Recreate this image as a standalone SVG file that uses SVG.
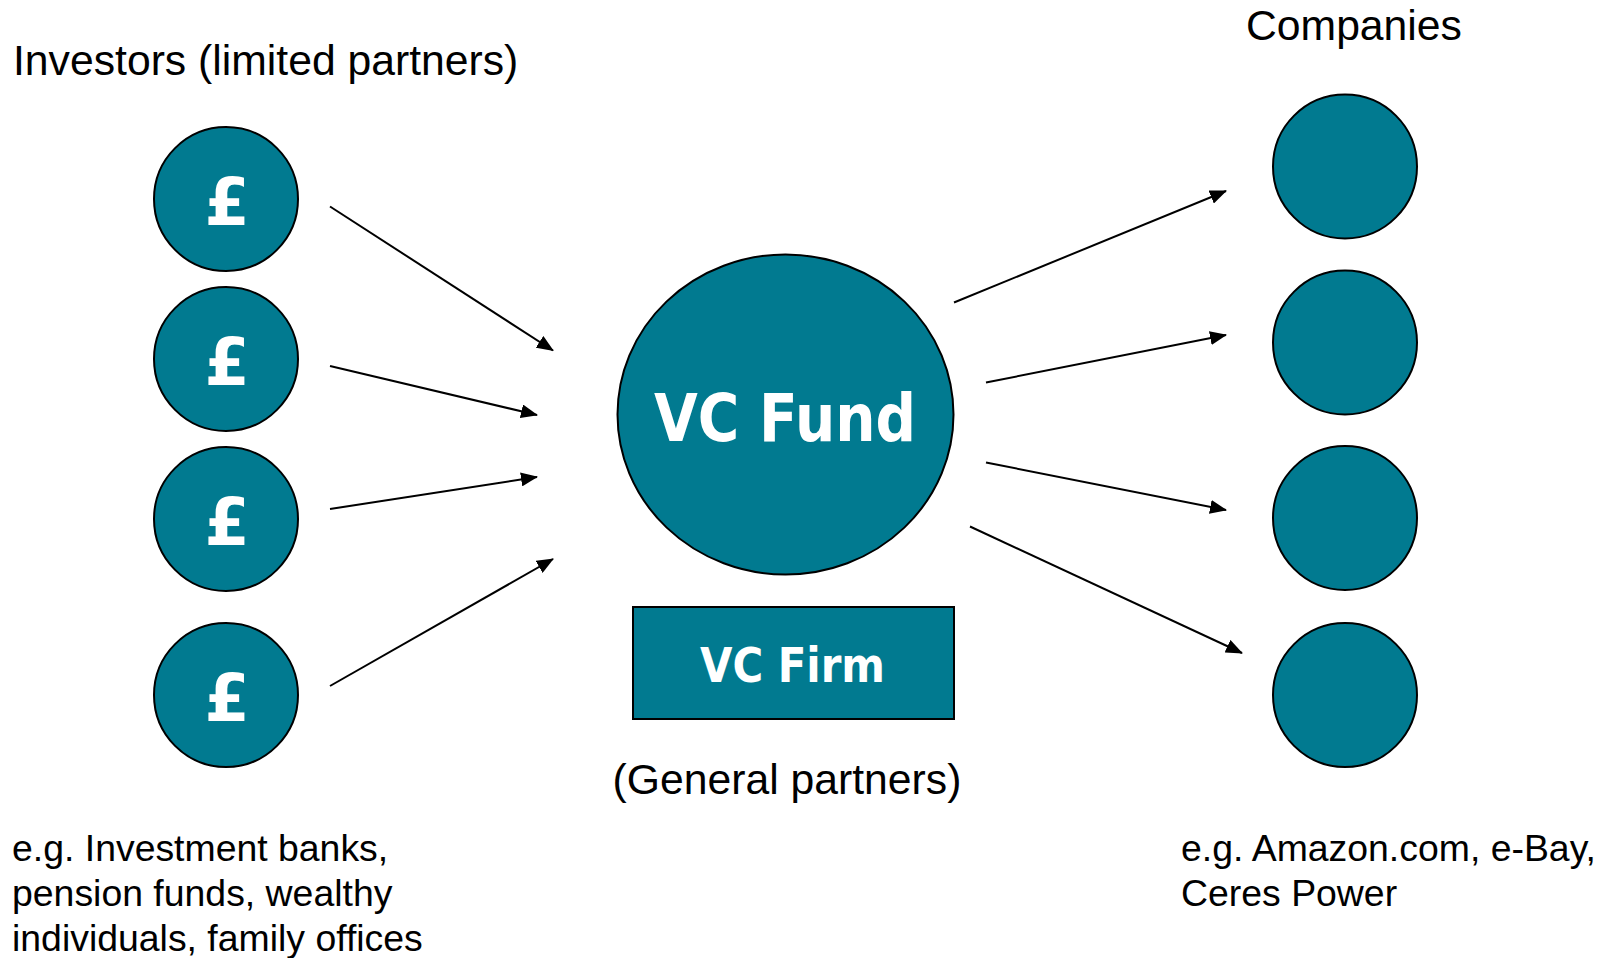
<svg xmlns="http://www.w3.org/2000/svg" width="1603" height="958" viewBox="0 0 1603 958">
<style>
.node{fill:#017A90;stroke:#000;stroke-width:2}
.lbl{font-family:"Liberation Sans",Arial,sans-serif;fill:#000}
.big{font-size:42.7px}
.small{font-size:37.4px}
.wt{font-family:"DejaVu Sans",Verdana,sans-serif;font-weight:bold;fill:#fff;text-anchor:middle}
.conn line{stroke:#000;stroke-width:2}
</style>
<defs>
<marker id="ah" viewBox="0 0 17 14" refX="16" refY="7" markerWidth="17" markerHeight="14" markerUnits="userSpaceOnUse" orient="auto">
<path d="M0,0 L17,7 L0,14 z" fill="#000"/>
</marker>
</defs>
<rect width="1603" height="958" fill="#fff"/>
<text class="lbl big" x="13" y="75">Investors (limited partners)</text>
<text class="lbl big" x="1246" y="40">Companies</text>
<text class="lbl big" x="787" y="794" text-anchor="middle">(General partners)</text>
<text class="lbl small" x="12" y="861">e.g. Investment banks,</text>
<text class="lbl small" x="12" y="906">pension funds, wealthy</text>
<text class="lbl small" x="12" y="951">individuals, family offices</text>
<text class="lbl small" x="1181" y="861">e.g. Amazon.com, e-Bay,</text>
<text class="lbl small" x="1181" y="906">Ceres Power</text>
<g id="inv1"><circle class="node" cx="226" cy="199" r="72"/><text class="wt" x="227" y="225" font-size="65">£</text></g>
<g id="inv2"><circle class="node" cx="226" cy="359" r="72"/><text class="wt" x="227" y="385" font-size="65">£</text></g>
<g id="inv3"><circle class="node" cx="226" cy="519" r="72"/><text class="wt" x="227" y="545" font-size="65">£</text></g>
<g id="inv4"><circle class="node" cx="226" cy="695" r="72"/><text class="wt" x="227" y="721" font-size="65">£</text></g>
<g id="fund"><ellipse class="node" cx="785.5" cy="414.5" rx="168" ry="160"/><text class="wt" x="785" y="441" font-size="66" textLength="262" lengthAdjust="spacingAndGlyphs">VC Fund</text></g>
<g id="firm"><rect class="node" x="633" y="607" width="321" height="112"/><text class="wt" x="792.5" y="682" font-size="48" textLength="185" lengthAdjust="spacingAndGlyphs">VC Firm</text></g>
<g id="co1"><circle class="node" cx="1345" cy="166.5" r="72"/></g>
<g id="co2"><circle class="node" cx="1345" cy="342.5" r="72"/></g>
<g id="co3"><circle class="node" cx="1345" cy="518" r="72"/></g>
<g id="co4"><circle class="node" cx="1345" cy="695" r="72"/></g>
<g class="conn" id="connectors">
<line x1="330" y1="206.5" x2="553" y2="350.5" marker-end="url(#ah)"/>
<line x1="330" y1="366" x2="537" y2="415" marker-end="url(#ah)"/>
<line x1="330" y1="509" x2="537" y2="477" marker-end="url(#ah)"/>
<line x1="330" y1="686" x2="553" y2="559" marker-end="url(#ah)"/>
<line x1="954" y1="302.5" x2="1226" y2="191" marker-end="url(#ah)"/>
<line x1="986" y1="382.5" x2="1226" y2="335" marker-end="url(#ah)"/>
<line x1="986" y1="462.5" x2="1226" y2="510" marker-end="url(#ah)"/>
<line x1="970" y1="526.5" x2="1242" y2="653" marker-end="url(#ah)"/>
</g>
</svg>
